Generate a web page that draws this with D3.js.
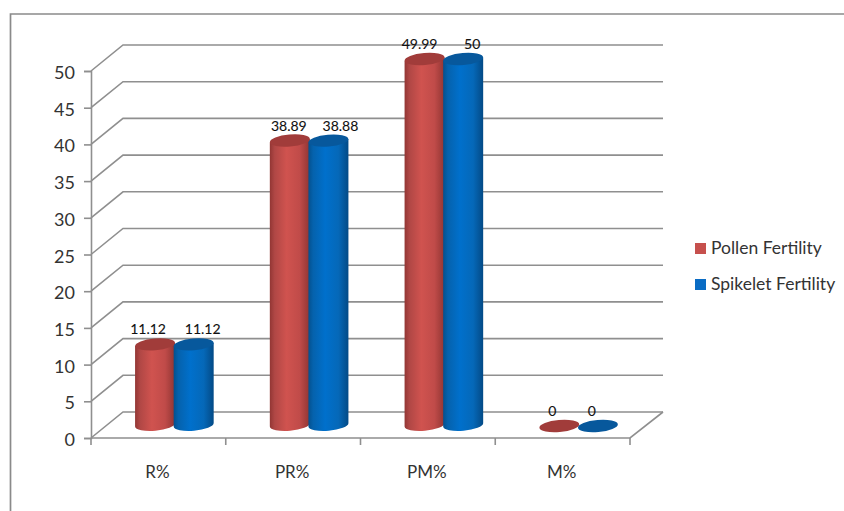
<!DOCTYPE html>
<html>
<head>
<meta charset="utf-8">
<script src="https://cdn.jsdelivr.net/npm/d3@7/dist/d3.min.js"></script>
<style>
html,body{margin:0;padding:0;background:#fff}
svg{display:block}
text{font-family:Lato,"Open Sans",sans-serif}
</style>
</head>
<body>
<svg id="chart" width="844" height="511"></svg>
<script>
const categories = ["R%", "PR%", "PM%", "M%"];
const seriesNames = ["Pollen Fertility", "Spikelet Fertility"];
const pollenFertility = [11.12, 38.89, 49.99, 0];
const spikeletFertility = [11.12, 38.88, 50, 0];
const valueLabels = [["11.12", "38.89", "49.99", "0"], ["11.12", "38.88", "50", "0"]];
const yTicks = [0, 5, 10, 15, 20, 25, 30, 35, 40, 45, 50];

const svg = d3.select("#chart");
const gridColor = "#8f8f8f";

// Front plane of the 3D box and its offset towards the back wall
const front = {left: 91, right: 630, bottom: 438, top: 71};
const depth = {x: 32, y: -26};

const y = d3.scaleLinear().domain([0, 50]).range([front.bottom, front.top]);
const x = d3.scaleBand().domain(categories).range([front.left, front.right]);

// Outer chart frame, open on the right and at the bottom
svg.append("path")
  .attr("d", "M10.5,511V14H844")
  .attr("fill", "none").attr("stroke", "#8a8a8a").attr("stroke-width", 1.7);

// Back wall gridlines and the slanted side wall lines
const grid = svg.append("g").attr("fill", "none").attr("stroke", gridColor).attr("stroke-width", 1.6);
yTicks.forEach(t => {
  grid.append("path").attr("d", d3.line()([
    [front.left, y(t)],
    [front.left + depth.x, y(t) + depth.y],
    [front.right + depth.x + 1, y(t) + depth.y]
  ]));
});
// Floor outline
grid.append("path").attr("d", d3.line()([
  [front.left, y(0)], [front.right, y(0)], [front.right + depth.x + 1, y(0) + depth.y]
]));

// Value axis
const yAxis = svg.append("g")
  .attr("transform", `translate(${front.left},0)`)
  .call(d3.axisLeft(y).tickValues(yTicks).tickSize(7).tickPadding(9));
yAxis.select(".domain").attr("stroke", gridColor).attr("stroke-width", 1.6);
yAxis.selectAll(".tick line").attr("stroke", gridColor).attr("stroke-width", 1.6);
yAxis.selectAll("text").attr("font-size", 18).attr("fill", "#333").attr("dy", "0.42em")
  .style("font-family", "Lato,sans-serif");

// Category axis: ticks sit on the band edges, labels in the band centres
const xAxis = svg.append("g").attr("transform", `translate(0,${front.bottom})`);
x.domain().concat([null]).forEach((c, i) => {
  const px = front.left + i * x.bandwidth();
  xAxis.append("line").attr("x1", px).attr("x2", px).attr("y1", 0).attr("y2", 7)
    .attr("stroke", gridColor).attr("stroke-width", 1.6);
});
categories.forEach(c => {
  xAxis.append("text").attr("x", x(c) + x.bandwidth() / 2 - 1).attr("y", 40)
    .attr("text-anchor", "middle").attr("font-size", 17).attr("fill", "#333").text(c);
});

// Cylinder shading
const defs = svg.append("defs");
function shade(id, stops) {
  const g = defs.append("linearGradient").attr("id", id);
  stops.forEach(([o, c]) => g.append("stop").attr("offset", o).attr("stop-color", c));
}
shade("redBody", [[0, "#923634"], [0.12, "#b04745"], [0.42, "#d0534f"], [0.75, "#c04b49"], [1, "#903533"]]);
shade("blueBody", [[0, "#04518f"], [0.12, "#0562ad"], [0.42, "#0070cc"], [0.75, "#0568b8"], [1, "#034a86"]]);

const rx = 20, ry = 6, tilt = -5;
const midX = depth.x / 2, midY = -12;
const barOffset = 19.3;
const palette = [
  {body: "url(#redBody)", top: "#a13c3a", legend: "#c6504d"},
  {body: "url(#blueBody)", top: "#07589c", legend: "#0a6cc4"}
];
// Value labels are pulled sideways so that neighbours stay clear of each other
const labelShift = [[-7, -1, -5, -7], [9, 12, 9, -6]];

const bars = svg.append("g");
[pollenFertility, spikeletFertility].forEach((values, s) => {
  values.forEach((v, i) => {
    const cx = x(categories[i]) + x.bandwidth() / 2 + midX + (s === 0 ? -barOffset : barOffset);
    const yBase = y(0) + midY - 1.2;
    const yTop = y(v) + midY;
    const g = bars.append("g");
    if (v > 0) {
      // Side of the cylinder with a rounded lower edge
      g.append("path")
        .attr("d", `M${cx - rx},${yTop + 1.7}L${cx - rx},${yBase + 1.7}`
          + `A${rx},${ry} ${tilt} 0 0 ${cx + rx},${yBase - 1.7}`
          + `L${cx + rx},${yTop - 1.7}Z`)
        .attr("fill", palette[s].body);
    }
    g.append("ellipse")
      .attr("cx", cx).attr("cy", yTop).attr("rx", rx).attr("ry", ry)
      .attr("transform", `rotate(${tilt} ${cx} ${yTop})`)
      .attr("fill", palette[s].top);
    g.append("text")
      .attr("x", cx + labelShift[s][i]).attr("y", yTop - 10)
      .attr("text-anchor", "middle").attr("font-size", 14).attr("fill", "#111")
      .attr("stroke", "#111").attr("stroke-width", 0.1)
      .text(valueLabels[s][i]);
  });
});

// Legend
const legendY = [248, 284];
seriesNames.forEach((name, i) => {
  svg.append("rect").attr("x", 695).attr("y", legendY[i] - 5).attr("width", 11).attr("height", 11)
    .attr("fill", palette[i].legend);
  svg.append("text").attr("x", 711).attr("y", legendY[i] + 6)
    .attr("font-size", 17.5).attr("fill", "#333").text(name);
});
</script>
</body>
</html>
